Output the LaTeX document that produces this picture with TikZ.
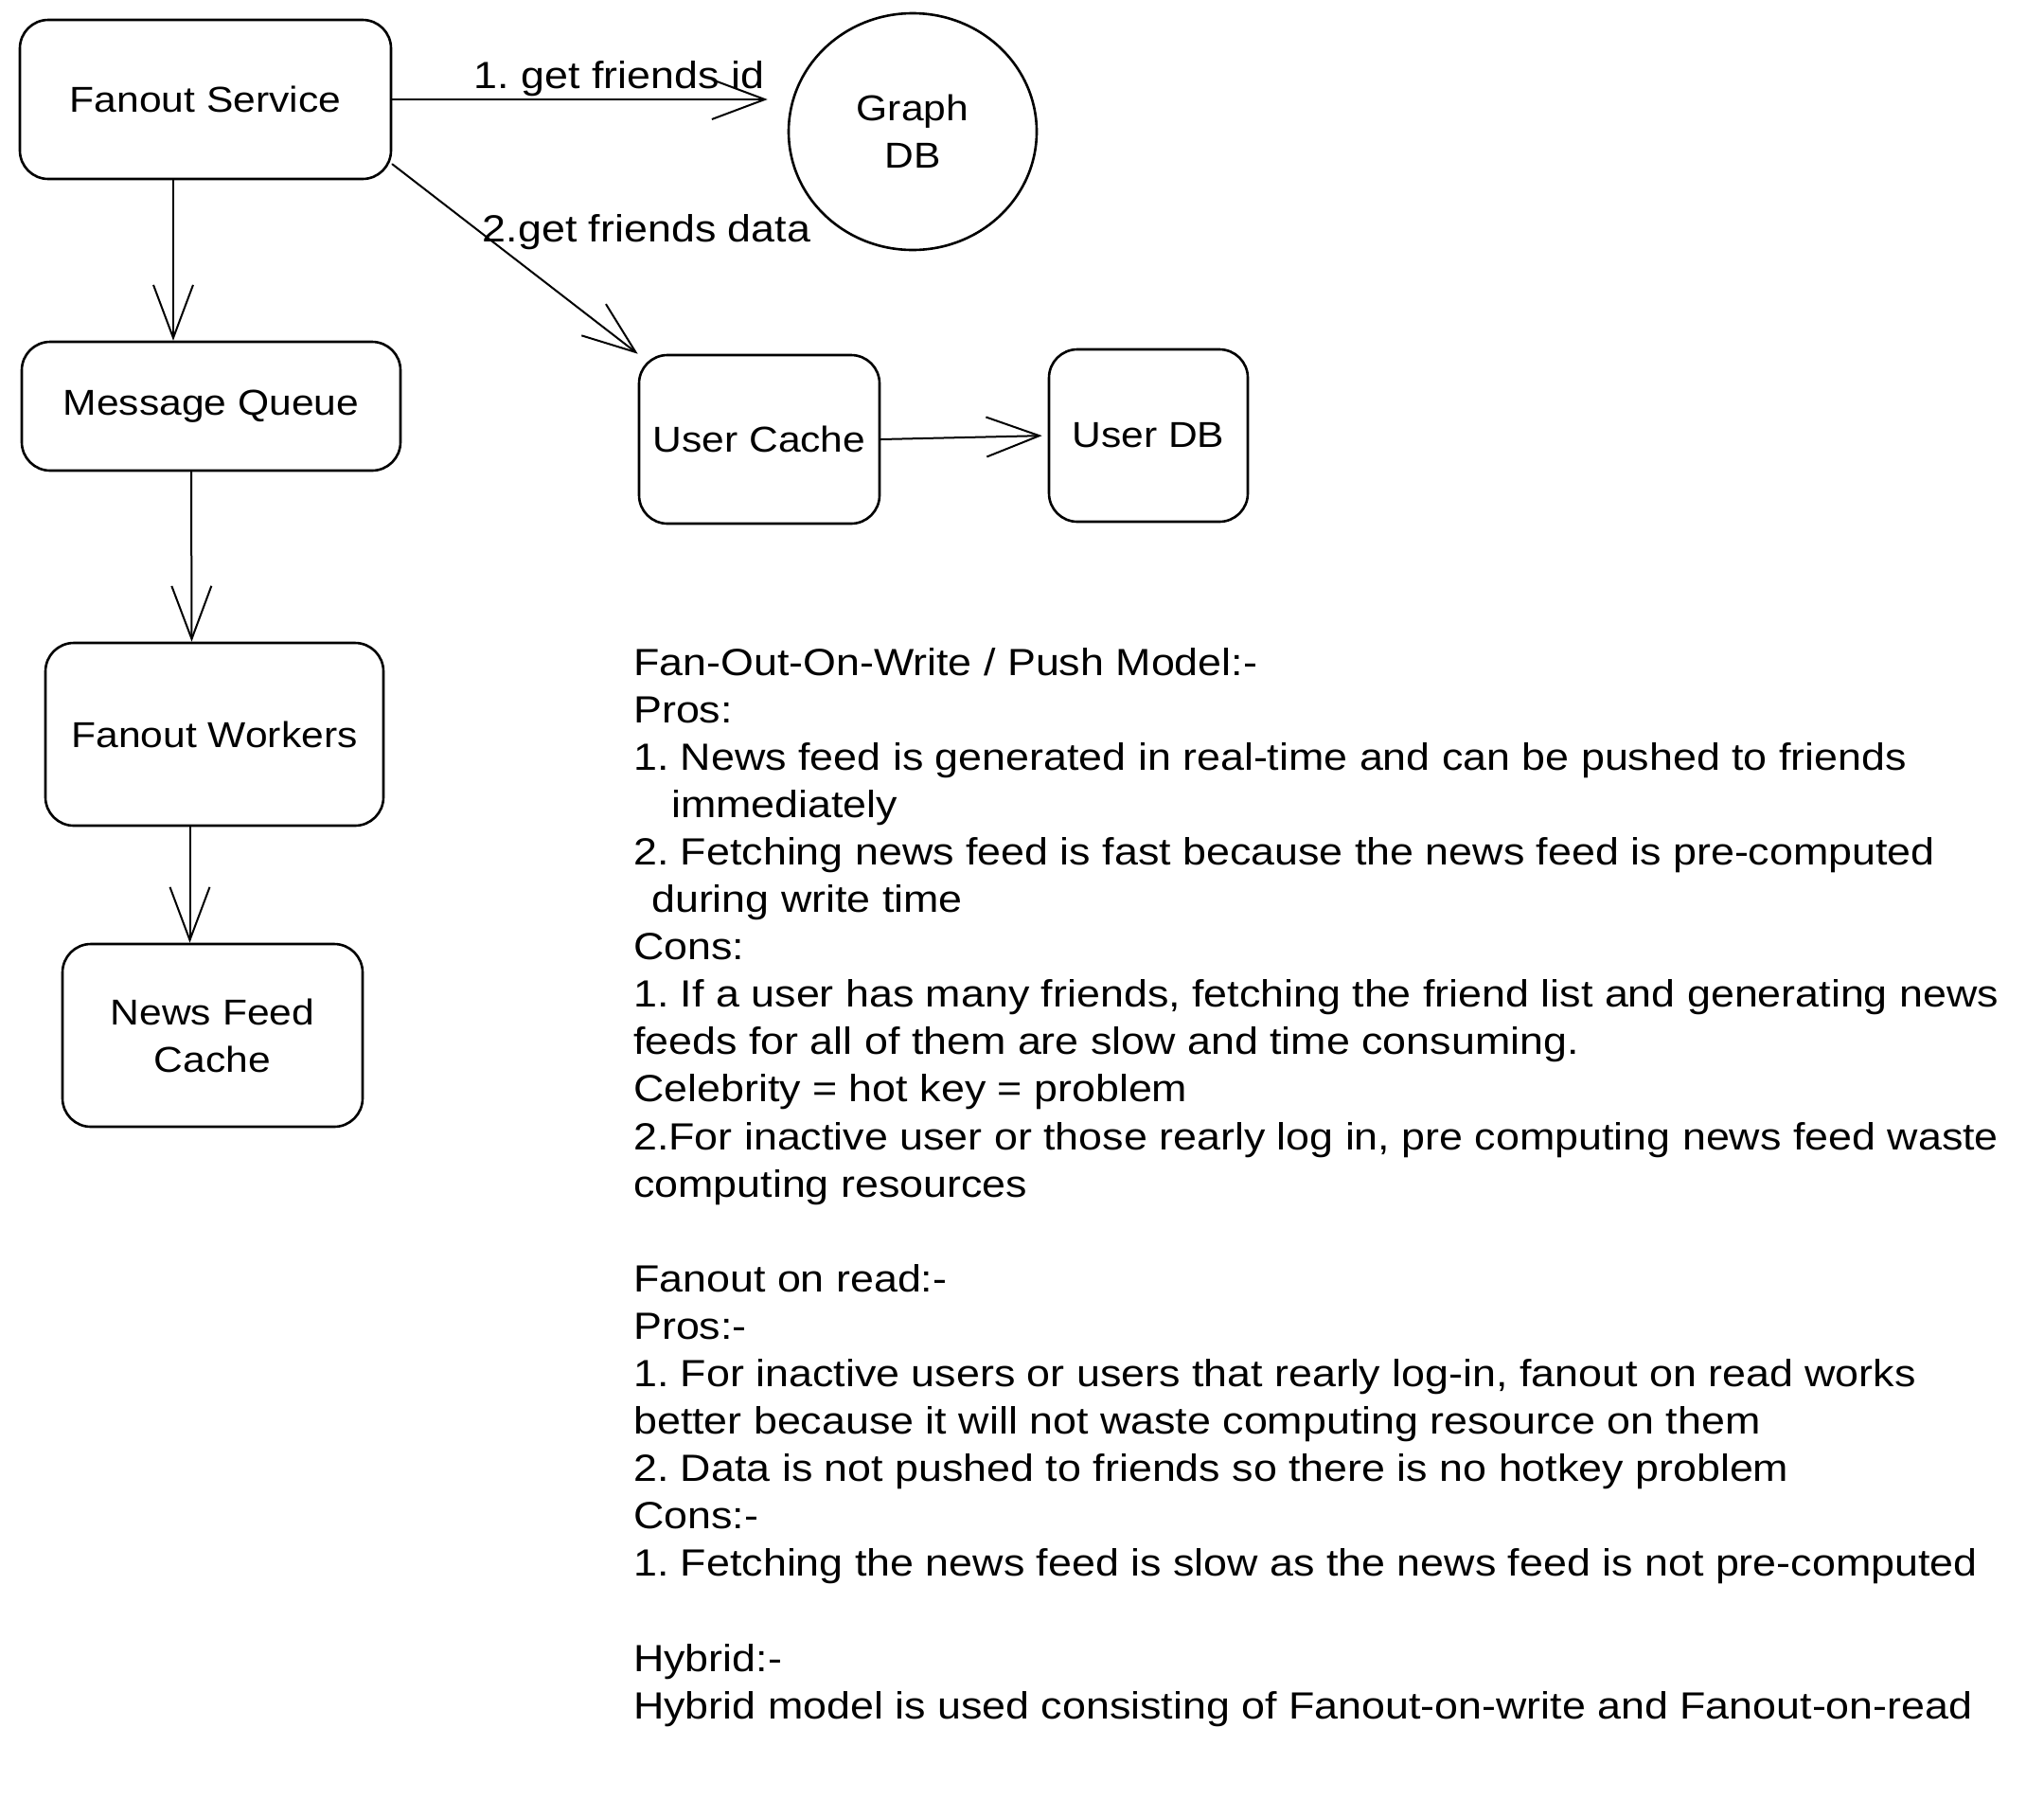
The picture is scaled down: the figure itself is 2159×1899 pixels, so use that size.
\documentclass[tikz,border=0pt]{standalone}
\usepackage{fontspec}
\setmainfont{Liberation Sans}[FakeStretch=1.12]
\usetikzlibrary{arrows.meta,shapes.geometric}
\newcommand{\sketchfont}{\fontsize{40}{50.1}\selectfont}
\newcommand{\boxfont}{\fontsize{38}{50.1}\selectfont}
\frenchspacing
\begin{document}
\begin{tikzpicture}[x=1pt,y=-1pt,
  box/.style={draw, line width=2.6pt, rounded corners=30pt, inner sep=0pt,
    align=center, font=\boxfont},
  dbnode/.style={draw, ellipse, line width=2.6pt, inner sep=0pt,
    align=center, font=\boxfont},
  arr/.style={draw, line width=2pt, line cap=round,
    -{Straight Barb[length=56pt,width=42pt,line width=2pt]}},
  lbl/.style={font=\sketchfont, inner sep=0pt, anchor=base},
  note/.style={font=\sketchfont, inner sep=0pt, anchor=base west}]

% page
\useasboundingbox[fill=white] (0,0) rectangle (2159,1899);

% services and stores
\node[box, minimum width=392pt, minimum height=168pt] (fs) at (217,105) {Fanout Service};
\node[dbnode, minimum width=262pt, minimum height=250pt] (gdb) at (964,139) {Graph\\DB};
\node[box, minimum width=400pt, minimum height=136pt] (mq) at (223,429) {Message Queue};
\node[box, minimum width=357pt, minimum height=193pt] (fw) at (226.5,775.5) {Fanout Workers};
\node[box, minimum width=317pt, minimum height=193pt] (nfc) at (224.5,1093.5) {News Feed\\Cache};
\node[box, minimum width=254pt, minimum height=178pt] (uc) at (802,464) {User Cache};
\node[box, minimum width=210pt, minimum height=182pt] (udb) at (1213,460) {User DB};

% connectors
\draw[arr, shorten >=21pt] (fs.east) -- (fs.east -| gdb.west);
\node[lbl] (l1) at (654,93) {1. get friends id};
\draw[arr] ([yshift=17pt]fs.south east) -- (uc.north west);
\node[lbl] (l2) at (683,255) {2.get friends data};
\coordinate (q1) at ([xshift=-34pt]fs.south);
\draw[arr] (q1) -- (q1 |- mq.north);
\draw[arr] ([xshift=-21pt]mq.south) -- ([xshift=-24pt]fw.north);
\draw[arr] ([xshift=-26pt]fw.south) -- ([xshift=-24pt]nfc.north);
\draw[arr, shorten >=6pt] (uc.east) -- (udb.west);

% notes
\node[note] (n0)  at (669,713)    {Fan-Out-On-Write / Push Model:-};
\node[note] (n1)  at (669,763.1)  {Pros:};
\node[note] (n2)  at (669,813.2)  {1. News feed is generated in real-time and can be pushed to friends};
\node[note] (n3)  at (709,863.3)  {immediately};
\node[note] (n4)  at (669,913.4)  {2. Fetching news feed is fast because the news feed is pre-computed};
\node[note] (n5)  at (688,963.5)  {during write time};
\node[note] (n6)  at (669,1013.6) {Cons:};
\node[note] (n7)  at (669,1063.7) {1. If a user has many friends, fetching the friend list and generating news};
\node[note] (n8)  at (669,1113.8) {feeds for all of them are slow and time consuming.};
\node[note] (n9)  at (669,1163.9) {Celebrity = hot key = problem};
\node[note] (n10) at (669,1214)   {2.For inactive user or those rearly log in, pre computing news feed waste};
\node[note] (n11) at (669,1264.1) {computing resources};
\node[note] (n13) at (669,1364.3) {Fanout on read:-};
\node[note] (n14) at (669,1414.4) {Pros:-};
\node[note] (n15) at (669,1464.5) {1. For inactive users or users that rearly log-in, fanout on read works};
\node[note] (n16) at (669,1514.6) {better because it will not waste computing resource on them};
\node[note] (n17) at (669,1564.7) {2. Data is not pushed to friends so there is no hotkey problem};
\node[note] (n18) at (669,1614.8) {Cons:-};
\node[note] (n19) at (669,1664.9) {1. Fetching the news feed is slow as the news feed is not pre-computed};
\node[note] (n21) at (669,1765.1) {Hybrid:-};
\node[note] (n22) at (669,1815.2) {Hybrid model is used consisting of Fanout-on-write and Fanout-on-read};
\end{tikzpicture}
\end{document}
